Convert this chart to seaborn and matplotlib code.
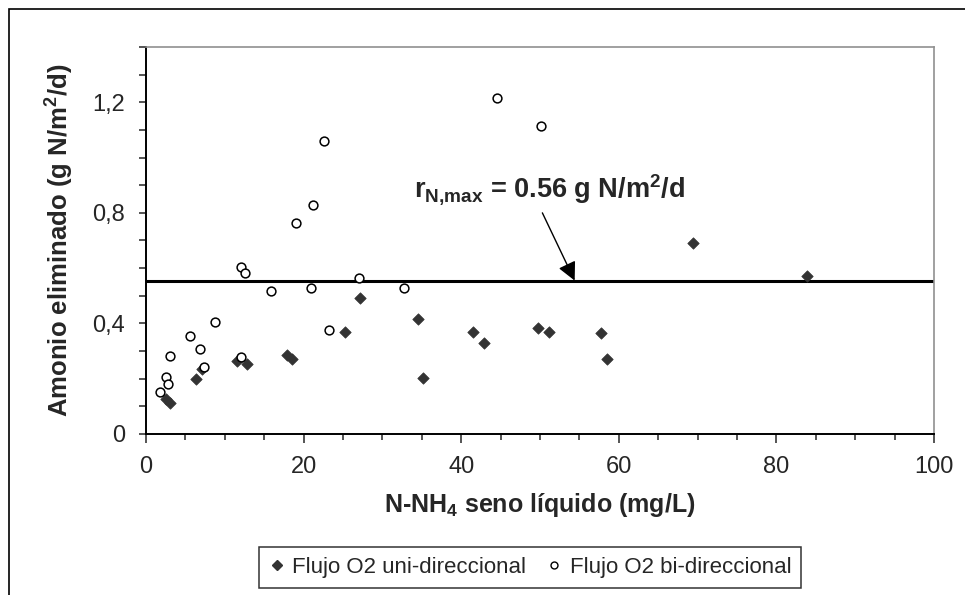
import matplotlib
matplotlib.use("Agg")
import matplotlib.pyplot as plt
from matplotlib.lines import Line2D
from matplotlib.patches import Rectangle
from matplotlib.ticker import MultipleLocator
import seaborn as sns

# Data
uni_x = [2.5, 3.1, 6.3, 7.1, 11.6, 12.8, 17.9, 18.5, 25.3, 27.2, 34.5, 35.2,
         41.5, 42.9, 49.7, 51.1, 57.7, 58.5, 69.4, 83.9]
uni_y = [0.126, 0.111, 0.200, 0.234, 0.264, 0.252, 0.286, 0.270, 0.370, 0.493,
         0.417, 0.201, 0.370, 0.329, 0.382, 0.370, 0.364, 0.271, 0.692, 0.572]

bi_x = [1.8, 2.5, 2.8, 3.0, 5.6, 6.9, 7.3, 8.7, 12.0, 12.0, 12.6, 15.9, 19.0,
        21.0, 21.2, 22.6, 23.2, 27.0, 32.7, 44.6, 50.1]
bi_y = [0.153, 0.205, 0.181, 0.283, 0.353, 0.306, 0.243, 0.406, 0.277, 0.605,
        0.582, 0.517, 0.762, 0.529, 0.827, 1.060, 0.376, 0.564, 0.528, 1.214, 1.113]

r_max = 0.555
series_labels = ["Flujo O2 uni-direccional", "Flujo O2 bi-direccional"]
y_ticks = [0, 0.4, 0.8, 1.2]
y_ticklabels = ["0", "0,4", "0,8", "1,2"]

sns.set_style("white")
plt.rcParams['font.family'] = ['Liberation Sans', 'DejaVu Sans']
plt.rcParams['mathtext.fontset'] = 'custom'
plt.rcParams['mathtext.rm'] = 'Liberation Sans'
plt.rcParams['mathtext.bf'] = 'Liberation Sans:bold'
plt.rcParams['mathtext.it'] = 'Liberation Sans:italic'

fig = plt.figure(figsize=(9.65, 5.95), dpi=100)
ax = fig.add_axes([146 / 965, 1 - 434 / 595, (934 - 146) / 965, (434 - 47) / 595])

sns.scatterplot(x=uni_x, y=uni_y, marker='D', s=34, color='#333333',
                edgecolor='#333333', linewidth=0.5, ax=ax, zorder=3)
sns.scatterplot(x=bi_x, y=bi_y, marker='o', s=40, color='white',
                edgecolor='black', linewidth=1.1, ax=ax, zorder=4)

ax.axhline(r_max, color='black', lw=2.2, zorder=2)

# label and arrow for the max rate line
ax.annotate('', xy=(54.4, r_max), xytext=(50.3, 0.80),
            arrowprops=dict(arrowstyle='-|>', color='black', lw=1.0,
                            mutation_scale=28, shrinkA=0, shrinkB=0))
ax.text(34.0, 0.885, r'$\mathbf{r_{N{,}max}}$ = 0.56 g N/m$^\mathbf{2}$/d',
        fontsize=19.5, fontweight='bold', va='center', ha='left')

ax.set_xlim(0, 100)
ax.set_ylim(0, 1.4)
ax.xaxis.set_major_locator(MultipleLocator(20))
ax.xaxis.set_minor_locator(MultipleLocator(5))
ax.set_yticks(y_ticks)
ax.set_yticklabels(y_ticklabels)
ax.yaxis.set_minor_locator(MultipleLocator(0.1))

ax.tick_params(axis='x', which='major', direction='out', length=6.5, width=1.1,
               pad=9, labelsize=17, bottom=True)
ax.tick_params(axis='x', which='minor', direction='out', length=4.5, width=1.1,
               bottom=True)
ax.tick_params(axis='y', which='both', direction='out', length=5, width=1.1,
               left=True)
ax.tick_params(axis='y', which='major', pad=10, labelsize=17)

for side in ['left', 'bottom']:
    ax.spines[side].set_color('black')
    ax.spines[side].set_linewidth(1.4)
for side in ['top', 'right']:
    ax.spines[side].set_color('#909090')
    ax.spines[side].set_linewidth(1.2)

ax.set_xlabel('N-NH$_\\mathbf{4}$ seno líquido (mg/L)', fontsize=18,
              fontweight='bold', labelpad=10)
ax.set_ylabel('Amonio eliminado (g N/m$^\\mathbf{2}$/d)', fontsize=18.5,
              fontweight='bold', labelpad=12)

handles = [
    Line2D([], [], marker='D', linestyle='none', markersize=5,
           markerfacecolor='#333333', markeredgecolor='#333333'),
    Line2D([], [], marker='o', linestyle='none', markersize=5,
           markerfacecolor='white', markeredgecolor='black', markeredgewidth=1),
]
leg = fig.legend(handles, series_labels, loc='center',
                 bbox_to_anchor=(530 / 965, 1 - 567 / 595), ncol=2,
                 frameon=True, fancybox=False, fontsize=16,
                 handlelength=0.7, handletextpad=0.35, columnspacing=0.9,
                 borderpad=0.45, borderaxespad=0)
leg.get_frame().set_edgecolor('black')
leg.get_frame().set_linewidth(1.1)

# outer chart frame (only left and top edges are visible in the crop)
fig.patches.append(Rectangle((9 / 965, -0.5), 2, 0.5 + 1 - 9 / 595,
                             transform=fig.transFigure, fill=False,
                             edgecolor='black', lw=1.2))

fig.savefig('out.png', dpi=100)
